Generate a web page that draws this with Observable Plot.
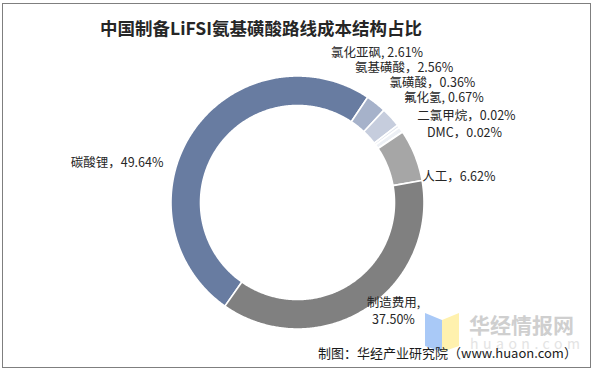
<!DOCTYPE html>
<html><head><meta charset="utf-8">
<script src="https://cdn.jsdelivr.net/npm/d3@7"></script>
<script src="https://cdn.jsdelivr.net/npm/@observablehq/plot@0.6"></script>
<style>
body{margin:0;background:#fff;}
#wrap{position:relative;width:596px;height:374px;overflow:hidden;font-family:"Noto Sans CJK SC","Noto Sans",sans-serif;background:#fff;}
#frame{position:absolute;left:2px;top:3px;width:589px;height:365px;border:1px solid #7f7f7f;box-sizing:border-box;}
#title{position:absolute;left:0;top:16px;width:522px;text-align:center;font-size:17.5px;font-weight:bold;color:#262626;line-height:24px;white-space:nowrap;}
#chart{position:absolute;left:0;top:0;}
#wm{position:absolute;left:0;top:0;}
#wmtext{position:absolute;left:469px;top:314px;font-size:21px;font-weight:bold;color:#cfcfcf;line-height:21px;white-space:nowrap;}
#wmurl{position:absolute;left:470px;top:336px;font-size:14px;color:#e4e4e4;line-height:14px;letter-spacing:4.5px;white-space:nowrap;}
#source{position:absolute;left:318px;top:345px;font-size:13px;color:#1a1a1a;line-height:16px;white-space:nowrap;}
</style></head>
<body>
<div id="wrap">
  <svg id="wm" width="596" height="374">
    <polygon points="425,313 442,320 442,352 425,346" fill="#a9c9f7"/>
    <polygon points="442,320 459,313 459,346 442,352" fill="#fff1ae"/>
  </svg>
  <div id="wmtext">华经情报网</div>
  <div id="wmurl">huaon.com</div>
  <div id="chart"></div>
  <div id="title">中国制备LiFSI氨基磺酸路线成本结构占比</div>
  <div id="source">制图：华经产业研究院（www.huaon.com）</div>
  <div id="frame"></div>
</div>
<script>
// ---- data ----
const categories = ["碳酸锂","氯化亚砜","氨基磺酸","氯磺酸","氟化氢","二氯甲烷","DMC","人工","制造费用"];
const shares = [49.64, 2.61, 2.56, 0.36, 0.67, 0.02, 0.02, 6.62, 37.50];
const labels = ["碳酸锂，49.64%","氯化亚砜, 2.61%","氨基磺酸，2.56%","氯磺酸，0.36%","氟化氢, 0.67%","二氯甲烷，0.02%","DMC，0.02%","人工，6.62%","制造费用,\n37.50%"];
const colors = ["#687ca1","#a6b2ca","#c6cddd","#e3e7ef","#edf0f5","#f2f3f6","#f2f3f6","#a6a6a6","#808080"];
// label nudges (layout, px) from the slice's outer mid point
const nudges = [[-76,30],[1,-52],[13,-51],[34,-45],[43,-33],[64,-17],[62,0],[44,20],[28,1]];

// ---- layout ----
const W = 596, H = 374, cx = 297, cy = 202, R = 126.5, r = 97;
const startDeg = 215;

const rows = categories.map((c,i)=>({name:c, value:shares[i], label:labels[i], i}));
const pie = d3.pie().sort(null).value(d=>d.value)
  .startAngle(startDeg*Math.PI/180).endAngle(startDeg*Math.PI/180 + 2*Math.PI);
const arcs = pie(rows);

const poly = [];
arcs.forEach(a=>{
  const span = a.endAngle - a.startAngle;
  const n = Math.max(2, Math.ceil(span/(Math.PI/360)));
  const pts = [];
  for (let k=0;k<=n;k++){ const t=a.startAngle+span*k/n; pts.push([R*Math.sin(t), -R*Math.cos(t)]); }
  for (let k=n;k>=0;k--){ const t=a.startAngle+span*k/n; pts.push([r*Math.sin(t), -r*Math.cos(t)]); }
  pts.forEach(p=>poly.push({name:a.data.name, x:p[0], y:p[1]}));
});

const labelRows = arcs.map(a=>{
  const m = (a.startAngle+a.endAngle)/2;
  const nd = nudges[a.data.i];
  return {label:a.data.label, x:R*Math.sin(m)+nd[0], y:-R*Math.cos(m)+nd[1]};
});

const chart = Plot.plot({
  width: W, height: H, margin: 0,
  style: {background:"transparent", overflow:"visible"},
  x: {domain:[-cx, W-cx], range:[0,W], axis:null},
  y: {domain:[-cy, H-cy], range:[0,H], axis:null},
  color: {domain: categories, range: colors},
  marks: [
    Plot.line(poly, {x:"x", y:"y", z:"name", fill:"name", stroke:"#ffffff", strokeWidth:1.6, curve:"linear-closed"}),
    Plot.text(labelRows, {x:"x", y:"y", text:"label", fontSize:12.5, fill:"#262626", lineHeight:1.36,
      fontFamily:"'Noto Sans CJK SC','Noto Sans',sans-serif"})
  ]
});
document.getElementById("chart").appendChild(chart);
</script>
</body></html>
